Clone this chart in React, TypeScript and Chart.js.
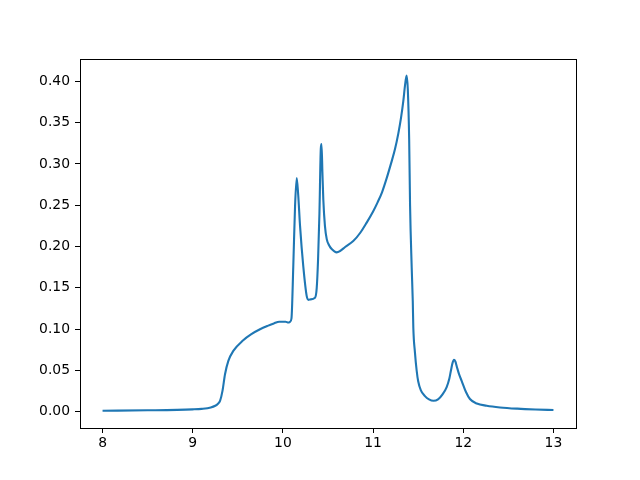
import React, { useEffect, useRef } from "react";
import { Chart, registerables } from "chart.js";

Chart.register(...registerables);

const xValues: number[] = [
  8.0, 8.5, 9.0, 9.1, 9.2, 9.25, 9.28, 9.303, 9.33, 9.358, 9.395, 9.45, 9.56, 9.65, 9.746, 9.83, 9.9, 9.96,
  10.03, 10.06, 10.08, 10.095, 10.115, 10.135, 10.153, 10.17, 10.19, 10.226, 10.264, 10.285, 10.3, 10.356,
  10.375, 10.39, 10.405, 10.42, 10.428, 10.438, 10.448, 10.466, 10.486, 10.515, 10.541, 10.596, 10.633, 10.69,
  10.78, 10.86, 10.929, 11.0, 11.05, 11.1, 11.15, 11.2, 11.243, 11.28, 11.31, 11.335, 11.355, 11.372, 11.385,
  11.4, 11.41, 11.428, 11.44, 11.446, 11.464, 11.483, 11.5, 11.53, 11.575, 11.62, 11.67, 11.72, 11.77, 11.816,
  11.845, 11.865, 11.882, 11.897, 11.912, 11.93, 11.955, 11.982, 12.03, 12.074, 12.15, 12.26, 12.407, 12.6,
  12.8, 13.0,
];
const yValues: number[] = [
  0.0012, 0.0018, 0.003, 0.0036, 0.0052, 0.0073, 0.0098, 0.0133, 0.0254, 0.0455, 0.0616, 0.0737, 0.0866, 0.094,
  0.0999, 0.104, 0.107, 0.109, 0.109, 0.108, 0.109, 0.113, 0.176, 0.25, 0.283, 0.262, 0.225, 0.176, 0.14,
  0.1355, 0.136, 0.138, 0.15, 0.185, 0.24, 0.318, 0.324, 0.29, 0.257, 0.225, 0.209, 0.201, 0.197, 0.193,
  0.1946, 0.1995, 0.2066, 0.217, 0.229, 0.2425, 0.2535, 0.266, 0.2825, 0.301, 0.318, 0.337, 0.356, 0.376,
  0.396, 0.407, 0.39, 0.33, 0.25, 0.175, 0.134, 0.102, 0.072, 0.05, 0.037, 0.026, 0.019, 0.015, 0.0133,
  0.015, 0.021, 0.03, 0.04, 0.051, 0.0595, 0.063, 0.061, 0.054, 0.045, 0.0375, 0.024, 0.0155, 0.01, 0.0073,
  0.0053, 0.0038, 0.0028, 0.0021,
];
const xTicks: number[] = [8, 9, 10, 11, 12, 13];
const yTicks: number[] = [0, 0.05, 0.1, 0.15, 0.2, 0.25, 0.3, 0.35, 0.4];

const FONT = { family: "'DejaVu Sans', sans-serif", size: 13.9 };

const framePlugin = {
  id: "frame",
  afterDraw(chart: any) {
    const { ctx, chartArea } = chart;
    ctx.save();
    ctx.strokeStyle = "#000";
    ctx.lineWidth = 1;
    ctx.strokeRect(
      Math.round(chartArea.left) + 0.5,
      Math.round(chartArea.top) + 0.5,
      Math.round(chartArea.right - chartArea.left),
      Math.round(chartArea.bottom - chartArea.top)
    );
    ctx.restore();
  },
};

export default function App() {
  const ref = useRef<HTMLCanvasElement | null>(null);
  useEffect(() => {
    if (!ref.current) return;
    const data = xValues.map((x, i) => ({ x, y: yValues[i] }));
    const chart = new Chart(ref.current, {
      type: "line",
      data: {
        datasets: [
          {
            data,
            borderColor: "#1f77b4",
            borderWidth: 2.1,
            pointRadius: 0,
            fill: false,
            cubicInterpolationMode: "monotone",
          },
        ],
      },
      options: {
        responsive: false,
        animation: false,
        layout: { padding: { left: 0, top: 59, right: 64, bottom: 0 } },
        plugins: { legend: { display: false }, tooltip: { enabled: false } },
        scales: {
          x: {
            type: "linear",
            min: 7.75,
            max: 13.25,
            afterBuildTicks: (s: any) => {
              s.ticks = xTicks.map((v) => ({ value: v }));
            },
            afterFit: (s: any) => {
              s.height = 52;
            },
            grid: { drawOnChartArea: false, drawTicks: true, tickLength: 5, color: "#000" },
            border: { display: true, color: "#000", width: 1 },
            ticks: { color: "#000", font: FONT, padding: 2, maxRotation: 0, callback: (v: any) => String(v) },
          },
          y: {
            type: "linear",
            min: -0.0196,
            max: 0.427,
            afterBuildTicks: (s: any) => {
              s.ticks = yTicks.map((v) => ({ value: v }));
            },
            afterFit: (s: any) => {
              s.width = 80;
            },
            grid: { drawOnChartArea: false, drawTicks: true, tickLength: 5, color: "#000" },
            border: { display: true, color: "#000", width: 1 },
            ticks: { color: "#000", font: FONT, padding: 5, callback: (v: any) => Number(v).toFixed(2) },
          },
        },
      },
      plugins: [framePlugin],
    });
    return () => chart.destroy();
  }, []);
  return (
    <div style={{ position: "fixed", left: 0, top: 0, width: 640, height: 480, background: "#fff" }}>
      <canvas ref={ref} width={640} height={480} style={{ display: "block" }} />
    </div>
  );
}
